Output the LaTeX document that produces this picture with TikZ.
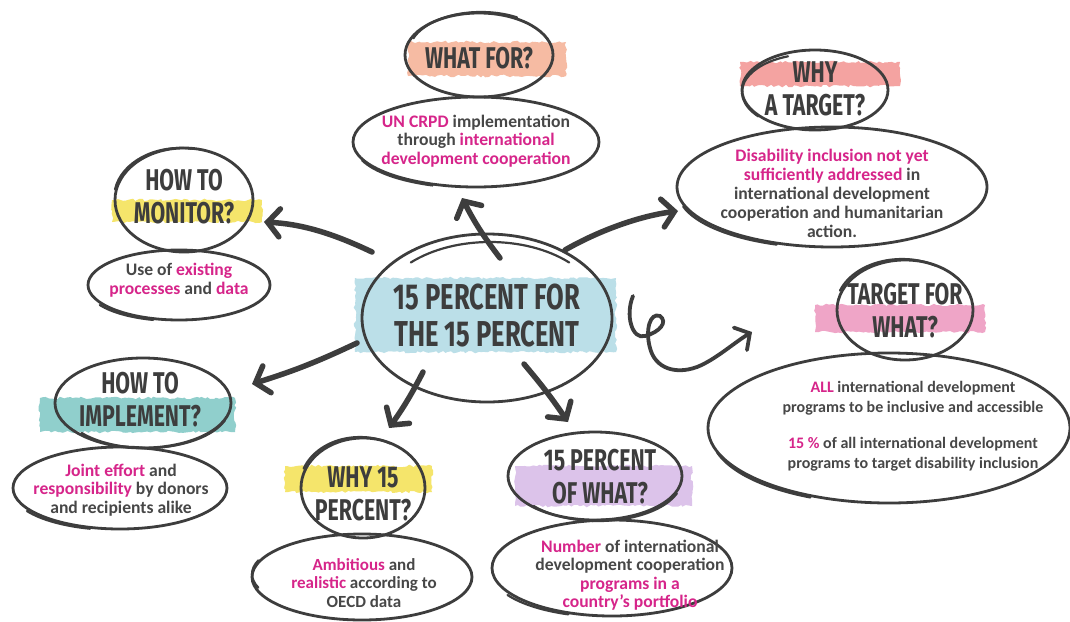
\documentclass[tikz,border=0pt]{standalone}
\usepackage{fontspec}
\setmainfont{Carlito}
\newfontfamily\headfont[FakeStretch=0.71]{Fira Sans}
\usetikzlibrary{shapes.geometric,arrows.meta,decorations.pathmorphing}
\definecolor{ink}{HTML}{3D3D3D}
\definecolor{txt}{HTML}{474747}
\definecolor{hot}{HTML}{D6258A}
\definecolor{peach}{HTML}{F6BBA3}
\definecolor{salmon}{HTML}{F4A3A1}
\definecolor{lemon}{HTML}{F5E56B}
\definecolor{sky}{HTML}{BBDFE8}
\definecolor{rose}{HTML}{EFA5C7}
\definecolor{seagreen}{HTML}{90CFCC}
\definecolor{lilac}{HTML}{DCC3EA}
\newcommand\sketcharc[7]{\draw[skline] ([shift={(#2,#3)}]#1.center) ++(#6:#4 and #5) arc[start angle=#6, end angle=#7, x radius=#4, y radius=#5];}
\tikzset{
  ring/.style={draw=ink, line width=2.8pt, ellipse, inner sep=0pt},
  skline/.style={draw=ink, line width=2.2pt, line cap=round},
  swash/.style={fill=#1, decorate, decoration={random steps, segment length=3pt, amplitude=1.3pt}},
  head/.style={font=\headfont\bfseries\fontsize{30}{33}\selectfont, text=ink, align=center, inner sep=0pt},
  bighead/.style={font=\headfont\bfseries\fontsize{36}{37}\selectfont, text=ink, align=center, inner sep=0pt},
  body/.style={font=\bfseries\fontsize{17.6}{18.5}\selectfont, text=txt, align=center, inner sep=0pt},
  smallbody/.style={font=\bfseries\fontsize{16}{19.5}\selectfont, text=txt, align=center, inner sep=0pt},
  arr/.style={draw=ink, line width=5.5pt, line cap=round, -{Straight Barb[length=12pt,width=28pt,line cap=round]}},
  curlarr/.style={draw=ink, line width=3.8pt, line cap=round, -{Straight Barb[length=11pt,width=26pt,line cap=round]}}
}
\begin{document}
\begin{tikzpicture}[x=1pt,y=-1pt]
\pgfmathsetseed{7}
\useasboundingbox (0,0) rectangle (1070,621);
\fill[white] (0,0) rectangle (1070,621);
% swashes
\path[swash=peach] (408,42) rectangle (566,76);
\path[swash=salmon] (740,62) rectangle (900,86);
\path[swash=lemon] (112,200) rectangle (262,222);
\path[swash=sky] (355,278) rectangle (616,352);
\path[swash=rose] (815,305) rectangle (985,332);
\path[swash=seagreen] (40,398) rectangle (235,432);
\path[swash=lemon] (285,466) rectangle (432,492);
\path[swash=lilac] (515,466) rectangle (692,506);
% rings
\node[ring, minimum width=148pt, minimum height=84pt] (wfr) at (479,55) {};
\node[ring, minimum width=246pt, minimum height=90pt] (wfb) at (476,142) {};
\node[ring, minimum width=146pt, minimum height=80pt] (wtr) at (815,90) {};
\node[ring, minimum width=310pt, minimum height=120pt] (wtb) at (832,187) {};
\node[ring, minimum width=138pt, minimum height=104pt] (hmr) at (184,200) {};
\node[ring, minimum width=182pt, minimum height=70pt] (hmb) at (179,285) {};
\node[ring, minimum width=250pt, minimum height=168pt] (cr) at (487,318) {};
\node[ring, minimum width=136pt, minimum height=100pt] (tfr) at (905,310) {};
\node[ring, minimum width=362pt, minimum height=150pt] (tfb) at (889,428) {};
\node[ring, minimum width=176pt, minimum height=90pt] (hir) at (143,403) {};
\node[ring, minimum width=214pt, minimum height=82pt] (hib) at (120,488) {};
\node[ring, minimum width=124pt, minimum height=100pt] (wpr) at (363,488) {};
\node[ring, minimum width=220pt, minimum height=86pt] (wpb) at (362,577) {};
\node[ring, minimum width=174pt, minimum height=88pt] (owr) at (595,476) {};
\node[ring, minimum width=240pt, minimum height=96pt] (owb) at (612,568) {};
% sketchy extra strokes
\sketcharc{wfr}{2}{-3}{72}{40}{200}{300}
\sketcharc{wfb}{-3}{4}{118}{42}{110}{160}
\sketcharc{wtr}{-3}{2}{70}{38}{140}{250}
\sketcharc{wtb}{-4}{5}{150}{56}{110}{165}
\sketcharc{hmr}{-4}{-2}{66}{50}{190}{280}
\sketcharc{hmb}{-3}{4}{88}{32}{105}{150}
\sketcharc{cr}{3}{-6}{112}{70}{225}{315}
\sketcharc{tfr}{-3}{-3}{66}{48}{200}{300}
\sketcharc{tfb}{-6}{6}{172}{70}{115}{165}
\sketcharc{hir}{3}{3}{84}{42}{20}{140}
\sketcharc{hib}{-3}{4}{104}{38}{105}{150}
\sketcharc{wpr}{-3}{-3}{60}{48}{200}{300}
\sketcharc{wpb}{-4}{-3}{106}{40}{160}{200}
\sketcharc{owr}{3}{3}{84}{42}{20}{140}
\sketcharc{owb}{-4}{5}{116}{44}{110}{150}
% headings
\node[head] (wft) at (479,58) {WHAT FOR?};
\node[head] (wtt) at (815,89) {WHY\\A TARGET?};
\node[head] (hmt) at (184,197) {HOW TO\\MONITOR?};
\node[bighead] (ct) at (487,316) {15 PERCENT FOR\\THE 15 PERCENT};
\node[head] (tft) at (905,311) {TARGET FOR\\WHAT?};
\node[head] (hit) at (140,400) {HOW TO\\IMPLEMENT?};
\node[head] (wpt) at (363,494) {WHY 15\\PERCENT?};
\node[head] (owt) at (600,477) {15 PERCENT\\OF WHAT?};
% bodies
\node[body] (wfx) at (476,141) {{\color{hot}UN CRPD} implementation\\through {\color{hot}international}\\{\color{hot}development cooperation}};
\node[body, font=\bfseries\fontsize{17.6}{19}\selectfont] (wtx) at (832,193) {{\color{hot}Disability inclusion not yet}\\{\color{hot}sufficiently addressed} in\\international development\\cooperation and humanitarian\\action.};
\node[body] (hmx) at (179,280) {Use of {\color{hot}existing}\\{\color{hot}processes} and {\color{hot}data}};
\node[smallbody] (tfx) at (913,426) {{\color{hot}ALL} international development\\programs to be inclusive and accessible\\[17pt]{\color{hot}15 \%} of all international development\\programs to target disability inclusion};
\node[body] (hix) at (121,490) {{\color{hot}Joint effort} and\\{\color{hot}responsibility} by donors\\and recipients alike};
\node[body, font=\bfseries\fontsize{17}{18.5}\selectfont] (wpx) at (364,583) {{\color{hot}Ambitious} and\\{\color{hot}realistic} according to\\OECD data};
\node[body] (owx) at (630,575) {{\color{hot}Number} of international\\development cooperation\\{\color{hot}programs in a}\\{\color{hot}country’s portfolio}};
% arrow anchors
\coordinate (s1) at (500,258); \coordinate (e1) at (462,198);
\coordinate (s2) at (565,250); \coordinate (e2) at (678,211);
\coordinate (s3) at (372,252); \coordinate (e3) at (264,222);
\coordinate (s4) at (357,343); \coordinate (e4) at (252,384);
\coordinate (s5) at (423,372); \coordinate (e5) at (389,428);
\coordinate (s6) at (524,364); \coordinate (e6) at (568,422);
\coordinate (s7) at (633,296); \coordinate (e7) at (752,332);
\draw[arr] (s1) to[bend left=5] (e1);
\draw[arr] (s2) .. controls (600,230) and (640,216) .. (e2);
\draw[arr] (s3) .. controls (330,232) and (300,224) .. (e3);
\draw[arr] (s4) to[bend left=4] (e4);
\draw[arr] (s5) to[bend left=4] (e5);
\draw[arr] (s6) to[bend left=3] (e6);
\draw[curlarr] (s7) .. controls (625,315) and (632,340) .. (645,336) .. controls (660,332) and (668,322) .. (660,316) .. controls (650,312) and (645,330) .. (650,348) .. controls (655,368) and (675,375) .. (697,367) .. controls (715,360) and (735,342) .. (e7);
\end{tikzpicture}
\end{document}
